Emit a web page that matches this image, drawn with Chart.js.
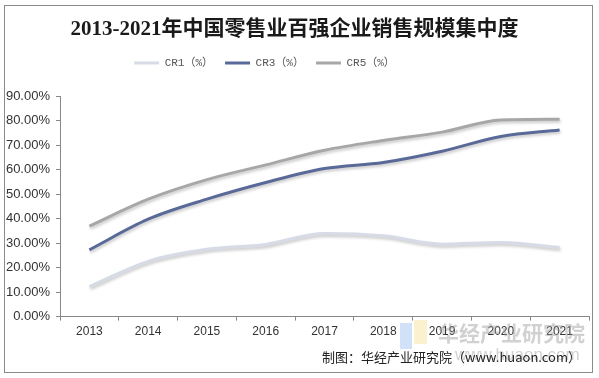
<!DOCTYPE html>
<html><head><meta charset="utf-8">
<script src="https://cdn.jsdelivr.net/npm/chart.js@4/dist/chart.umd.min.js"></script>
<style>html,body{margin:0;padding:0;background:#fff}#wrap{width:599px;height:378px;position:relative}</style>
</head><body><div id="wrap"><canvas id="c" width="599" height="378"></canvas></div>
<script>
const categories = ['2013','2014','2015','2016','2017','2018','2019','2020','2021'];
const cr1 = [12.3, 22.6, 27.5, 29.5, 34.0, 33.0, 29.6, 30.3, 28.2];
const cr3 = [27.3, 39.8, 48.0, 54.8, 60.5, 63.0, 67.6, 73.6, 76.3];
const cr5 = [37.0, 48.0, 56.0, 62.0, 68.0, 72.0, 75.4, 80.4, 80.7];
const seriesNames = ['CR1（%）','CR3（%）','CR5（%）'];
const titleText = '2013-2021年中国零售业百强企业销售规模集中度';
const sourceText = '制图：华经产业研究院（www.huaon.com）';

const shadowPlugin = {
  id:'shadow',
  beforeDatasetDraw(chart){ const c=chart.ctx; c.save(); c.shadowColor='rgba(0,0,0,0.22)'; c.shadowBlur=3; c.shadowOffsetX=1; c.shadowOffsetY=2; },
  afterDatasetDraw(chart){ chart.ctx.restore(); }
};
const legendShift = {
  id:'legendShift',
  afterLayout(chart){ if(chart.legend){ chart.legend.left -= 30; chart.legend.right -= 30; } }
};
const decorPlugin = {
  id:'decor',
  beforeDraw(chart){
    const c=chart.ctx; c.save(); c.fillStyle='#fff'; c.fillRect(0,0,chart.width,chart.height); c.restore();
  },
  afterDraw(chart){
    const c=chart.ctx; c.save();
    c.globalAlpha=0.55;
    c.fillStyle='#a9c9f2'; c.fillRect(400,323,12,26);
    c.fillStyle='#f6e7a6'; c.fillRect(414,320,13,24);
    c.globalAlpha=0.45;
    c.fillStyle='#9a9a9a'; c.font='bold 21px "Noto Sans CJK SC"'; c.textAlign='left'; c.textBaseline='middle';
    c.fillText('华经产业研究院',438,333);
    c.font='17px "Liberation Sans"'; c.fillText('www.huaon.com',455,355);
    c.globalAlpha=1;
    c.fillStyle='#222'; c.font='13px "Noto Sans CJK SC"'; c.textAlign='right'; c.textBaseline='middle';
    c.fillText(sourceText,581,357);
    c.strokeStyle='#8a8a8a'; c.lineWidth=1; c.strokeRect(4.5,5.5,588,367);
    c.restore();
  }
};

new Chart(document.getElementById('c'),{
  type:'line',
  data:{labels:categories,datasets:[
    {label:seriesNames[0],data:cr1,borderColor:'#d6dbe6',backgroundColor:'#d6dbe6',borderWidth:3,pointRadius:0,tension:0.4,cubicInterpolationMode:'monotone'},
    {label:seriesNames[1],data:cr3,borderColor:'#5a6a98',backgroundColor:'#5a6a98',borderWidth:3,pointRadius:0,tension:0.4,cubicInterpolationMode:'monotone'},
    {label:seriesNames[2],data:cr5,borderColor:'#a6a8a7',backgroundColor:'#a6a8a7',borderWidth:3,pointRadius:0,tension:0.4,cubicInterpolationMode:'monotone'}
  ]},
  options:{
    responsive:false,animation:false,devicePixelRatio:1,
    layout:{padding:{left:0,right:10,top:8,bottom:35}},
    plugins:{
      title:{display:true,text:titleText,color:'#1a1a1a',font:{family:"'Liberation Serif','Noto Sans CJK SC'",size:21,weight:'bold',lineHeight:1.2},padding:{top:9.4,bottom:2.9}},
      subtitle:{display:true,text:' ',weight:500,font:{size:10,lineHeight:1.2},padding:{top:5.9,bottom:0}},
      legend:{display:true,labels:{usePointStyle:true,pointStyle:'line',pointStyleWidth:25,boxHeight:8,color:'#555',font:{family:"'Liberation Mono','Noto Sans CJK SC'",size:11},padding:12},},
      tooltip:{enabled:false}
    },
    scales:{
      x:{offset:true,grid:{display:true,drawOnChartArea:false,offset:true,tickLength:4,color:'#888'},border:{color:'#888'},
        ticks:{color:'#333',padding:4,font:{family:"'Liberation Sans'",size:12}}},
      y:{min:0,max:90,grid:{display:true,drawOnChartArea:false,tickLength:4,color:'#888'},border:{color:'#888'},
        afterFit(s){s.width=60;},
        ticks:{stepSize:10,padding:6,color:'#333',font:{family:"'Liberation Sans'",size:13},callback:v=>v.toFixed(2)+'%'}}
    }
  },
  plugins:[shadowPlugin,legendShift,decorPlugin]
});
</script></body></html>
